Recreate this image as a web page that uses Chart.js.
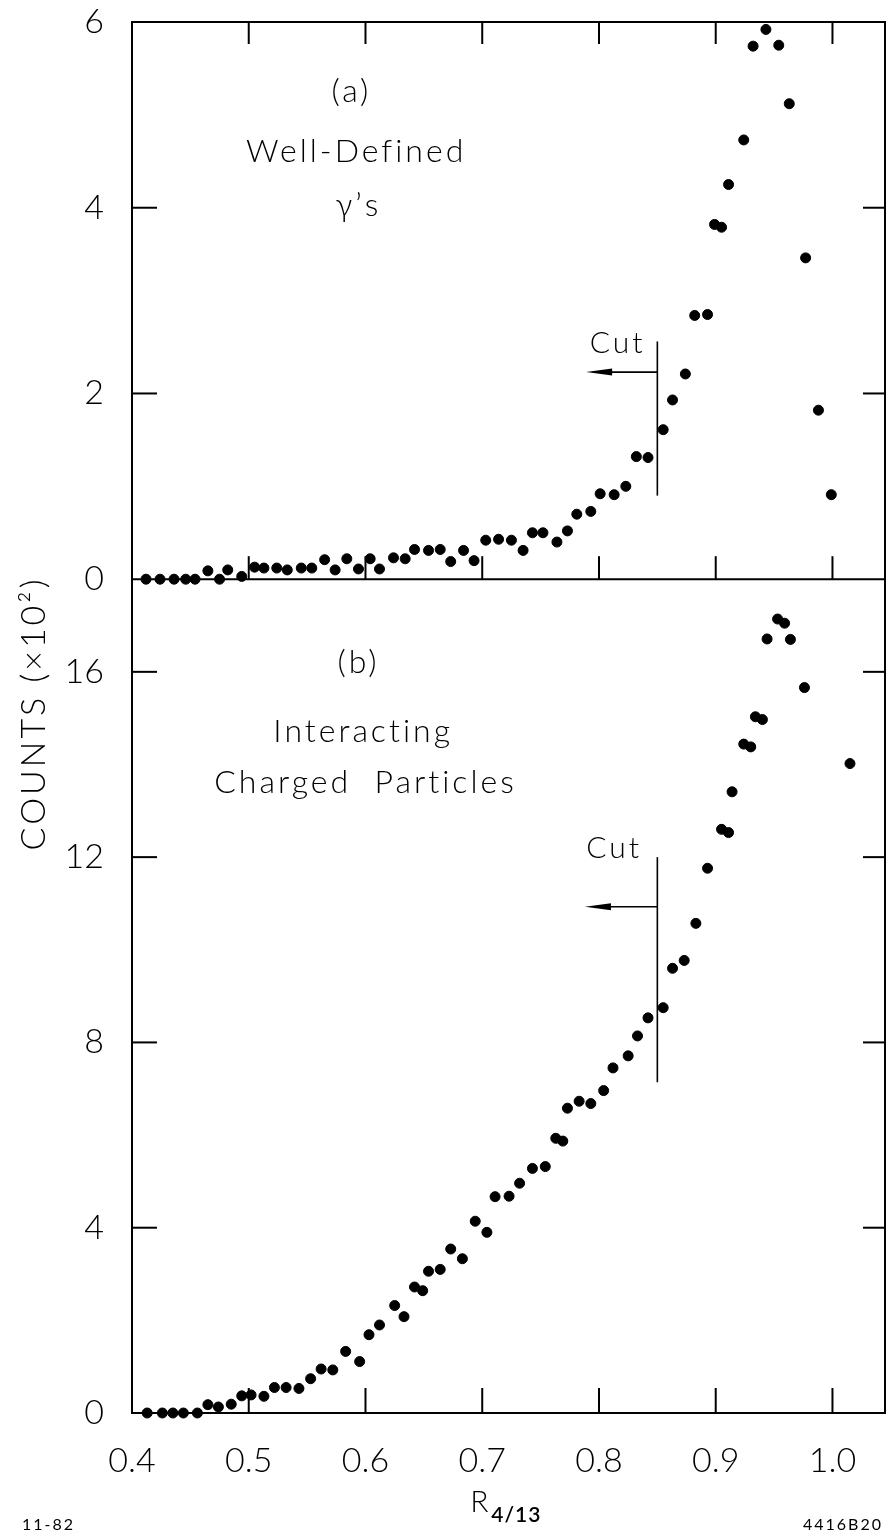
<!DOCTYPE html>
<html>
<head>
<meta charset="utf-8">
<script src="https://cdn.jsdelivr.net/npm/chart.js@4.4.1/dist/chart.umd.min.js"></script>
<style>
  html, body { margin: 0; padding: 0; background: #fff; }
  #kutu { position: relative; width: 891px; height: 1536px; }
</style>
</head>
<body>
<div id="kutu"><canvas id="grafik"></canvas></div>
<script>
// (a) well-defined gammas
const xA = [0.412,0.424,0.436,0.446,0.454,0.465,0.475,0.482,0.494,0.505,
            0.513,0.524,0.533,0.545,0.554,0.565,0.574,0.584,0.594,0.604,
            0.612,0.624,0.634,0.642,0.654,0.664,0.673,0.684,0.693,0.703,
            0.714,0.725,0.735,0.743,0.752,0.764,0.773,0.781,0.793,0.801,
            0.813,0.823,0.832,0.842,0.855,0.863,0.874,0.882,0.893,0.899,
            0.905,0.911,0.924,0.932,0.943,0.954,0.963,0.977,0.988,0.999];
const yA = [0,0,0,0,0,0.09,0,0.1,0.03,0.13,
            0.12,0.12,0.1,0.12,0.12,0.21,0.1,0.22,0.11,0.22,
            0.11,0.23,0.22,0.32,0.31,0.32,0.19,0.31,0.2,0.42,
            0.43,0.42,0.31,0.5,0.5,0.4,0.52,0.7,0.73,0.92,
            0.91,1.0,1.32,1.31,1.61,1.93,2.21,2.84,2.85,3.82,
            3.79,4.25,4.73,5.74,5.92,5.75,5.12,3.46,1.82,0.91];

// (b) interacting charged particles
const xB = [0.413,0.426,0.435,0.444,0.456,0.465,0.474,0.485,0.494,0.502,
            0.513,0.522,0.532,0.543,0.553,0.562,0.572,0.583,0.595,0.603,
            0.612,0.625,0.633,0.642,0.649,0.654,0.664,0.673,0.683,0.694,
            0.704,0.711,0.723,0.732,0.743,0.754,0.763,0.769,0.773,0.783,
            0.793,0.804,0.812,0.825,0.833,0.842,0.855,0.863,0.873,0.883,
            0.893,0.905,0.911,0.914,0.924,0.930,0.934,0.940,0.944,0.953,
            0.959,0.964,0.976,1.015];
const yB = [0,0,0,0,0,0.18,0.13,0.19,0.37,0.39,
            0.36,0.55,0.55,0.53,0.74,0.95,0.93,1.33,1.11,1.69,
            1.9,2.32,2.08,2.72,2.64,3.06,3.1,3.54,3.33,4.14,
            3.9,4.67,4.68,4.96,5.28,5.32,5.93,5.87,6.58,6.73,
            6.68,6.96,7.45,7.71,8.14,8.53,8.75,9.6,9.77,10.57,
            11.76,12.6,12.53,13.41,14.44,14.38,15.03,14.97,16.71,17.14,
            17.05,16.7,15.66,14.02];

const xTicks = [0.4,0.5,0.6,0.7,0.8,0.9,1.0];
const yTicksA = [0,2,4,6];
const yTicksB = [0,4,8,12,16];

// cut marker: [x, lineBottom, lineTop, arrowY, arrowTipX, textX, textY]
const cutA = [0.85, 0.9, 2.56, 2.23, 0.789, 0.816, 2.54];
const cutB = [0.85, 7.14, 12.0, 10.93, 0.788, 0.813, 12.2];

const etiketA = [['(a)', 0.588, 5.25], ['Well-Defined', 0.592, 4.6], ['\u03b3\u2019s', 0.594, 4.02]];
const etiketB = [['(b)', 0.594, 16.2], ['Interacting', 0.598, 14.7], ['Charged  Particles', 0.6, 13.6]];

const FONT = '"Lato", "DejaVu Sans", sans-serif';

function cizgi(ctx, x1, y1, x2, y2) {
    ctx.beginPath(); ctx.moveTo(x1, y1); ctx.lineTo(x2, y2); ctx.stroke();
}

const cerceve = {
    id: 'cerceve',
    afterDraw(chart) {
        const {ctx, chartArea: a, scales} = chart;
        const x = scales.x, ya = scales.yA, yb = scales.yB;
        const orta = ya.getPixelForValue(0);
        ctx.save();
        ctx.strokeStyle = '#000';
        ctx.lineWidth = 2;
        ctx.strokeRect(a.left, a.top, a.right - a.left, a.bottom - a.top);
        cizgi(ctx, a.left, orta, a.right, orta);

        // inward ticks
        xTicks.slice(1).forEach(v => {
            const px = x.getPixelForValue(v);
            cizgi(ctx, px, a.top, px, a.top + 22);
            cizgi(ctx, px, orta, px, orta - 23);
            cizgi(ctx, px, a.bottom, px, a.bottom - 25);
        });
        [2, 4].forEach(v => {
            const py = ya.getPixelForValue(v);
            cizgi(ctx, a.left, py, a.left + 25, py);
            cizgi(ctx, a.right, py, a.right - 22, py);
        });
        [4, 8, 12, 16].forEach(v => {
            const py = yb.getPixelForValue(v);
            cizgi(ctx, a.left, py, a.left + 25, py);
            cizgi(ctx, a.right, py, a.right - 22, py);
        });

        // cut markers
        ctx.lineWidth = 1.6;
        ctx.fillStyle = '#000';
        [[cutA, ya], [cutB, yb]].forEach(([c, ys]) => {
            const cx = x.getPixelForValue(c[0]);
            cizgi(ctx, cx, ys.getPixelForValue(c[1]), cx, ys.getPixelForValue(c[2]));
            const ay = ys.getPixelForValue(c[3]);
            const tip = x.getPixelForValue(c[4]);
            cizgi(ctx, cx, ay, tip + 20, ay);
            ctx.beginPath();
            ctx.moveTo(tip, ay);
            ctx.lineTo(tip + 26, ay - 3.5);
            ctx.lineTo(tip + 26, ay + 3.5);
            ctx.closePath();
            ctx.fill();
            ctx.font = '300 30px ' + FONT;
            ctx.letterSpacing = '3px';
            ctx.textAlign = 'center';
            ctx.textBaseline = 'middle';
            ctx.fillText('Cut', x.getPixelForValue(c[5]), ys.getPixelForValue(c[6]));
        });

        // panel labels
        ctx.font = '300 32px ' + FONT;
        ctx.letterSpacing = '3px';
        etiketA.forEach(([t, vx, vy]) => ctx.fillText(t, x.getPixelForValue(vx), ya.getPixelForValue(vy)));
        etiketB.forEach(([t, vx, vy]) => ctx.fillText(t, x.getPixelForValue(vx), yb.getPixelForValue(vy)));

        // y title
        ctx.save();
        ctx.translate(34, (a.top + a.bottom) / 2 - 4);
        ctx.rotate(-Math.PI / 2);
        ctx.font = '300 34px ' + FONT;
        ctx.letterSpacing = '3px';
        ctx.fillText('COUNTS (\u00d710\u00b2)', 0, 0);
        ctx.restore();

        // x title R_4/13
        ctx.letterSpacing = '0px';
        ctx.textAlign = 'left';
        ctx.textBaseline = 'alphabetic';
        const rx = x.getPixelForValue(0.7) - 12;
        ctx.font = '300 30px ' + FONT;
        ctx.fillText('R', rx, a.bottom + 99);
        ctx.font = '600 21px ' + FONT;
        ctx.letterSpacing = '1px';
        ctx.fillText('4/13', rx + 21, a.bottom + 109);

        // footer
        ctx.font = '400 16px ' + FONT;
        ctx.letterSpacing = '2px';
        ctx.fillText('11-82', 22, 1530);
        ctx.fillText('4416B20', 803, 1530);
        ctx.restore();
    }
};

function sabitTik(liste) {
    return scale => { scale.ticks = liste.map(v => ({value: v})); };
}

// fixed axis sizes, no extra padding for overflowing labels
function solEksen(s) {
    s.width = 132;
    s.paddingTop = 0;
    s.paddingBottom = 0;
}

const tikFont = {family: FONT, size: 34, weight: '300'};

new Chart(document.getElementById('grafik'), {
    type: 'scatter',
    data: {
        datasets: [{
            label: '(a)',
            data: xA.map((v, i) => ({x: v, y: yA[i]})),
            yAxisID: 'yA',
            backgroundColor: '#000',
            borderColor: '#000',
            pointRadius: 5,
            clip: false
        }, {
            label: '(b)',
            data: xB.map((v, i) => ({x: v, y: yB[i]})),
            yAxisID: 'yB',
            backgroundColor: '#000',
            borderColor: '#000',
            pointRadius: 5,
            clip: false
        }]
    },
    options: {
        responsive: true,
        maintainAspectRatio: false,
        animation: false,
        layout: { padding: { top: 22, right: 5, left: 0, bottom: 0 } },
        plugins: { legend: { display: false }, tooltip: { enabled: false } },
        scales: {
            x: {
                type: 'linear', min: 0.4, max: 1.045,
                grid: { display: false }, border: { display: false },
                afterBuildTicks: sabitTik(xTicks),
                afterFit: s => { s.height = 123; s.paddingLeft = 0; s.paddingRight = 0; },
                ticks: { color: '#000', font: tikFont, padding: 20, maxRotation: 0,
                         callback: v => v.toFixed(1) }
            },
            // bottom panel declared first so the stack puts (a) on top
            yB: {
                type: 'linear', position: 'left', stack: 'panel', stackWeight: 835,
                min: 0, max: 18,
                grid: { display: false }, border: { display: false },
                afterBuildTicks: sabitTik(yTicksB),
                afterFit: solEksen,
                ticks: { color: '#000', font: tikFont, padding: 20 }
            },
            yA: {
                type: 'linear', position: 'left', stack: 'panel', stackWeight: 558,
                min: 0, max: 6,
                grid: { display: false }, border: { display: false },
                afterBuildTicks: sabitTik(yTicksA),
                afterFit: solEksen,
                ticks: { color: '#000', font: tikFont, padding: 20 }
            }
        }
    },
    plugins: [cerceve]
});
</script>
</body>
</html>
